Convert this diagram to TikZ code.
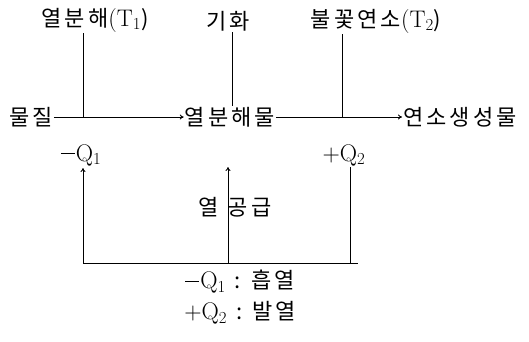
\documentclass[tikz,border=0pt]{standalone}
\usepackage{fontspec}
\usetikzlibrary{arrows.meta}
\newfontfamily\kr[LetterSpace=14]{Noto Sans CJK KR}
\newcommand{\lat}[2]{{\rmfamily\fontsize{24}{28}\selectfont #1\textsubscript{#2}}}
\newcommand{\mn}{\raisebox{7.5pt}{\rule{14pt}{0.9pt}}\hspace{1pt}}
\begin{document}
\begin{tikzpicture}[x=1pt,y=-1pt,
  lbl/.style={font=\fontsize{22}{26}\selectfont\kr, inner sep=1pt},
  ln/.style={line width=0.9pt},
  arr/.style={ln,-{To[length=4pt,width=5pt]}}]
\useasboundingbox (0,0) rectangle (529,341);
\node[lbl] (a) at (95,20) {열분해\lat{(T}{1})};
\node[lbl] (b) at (228,21) {기화};
\node[lbl] (c) at (376,21) {불꽃연소\lat{(T}{2})};
\node[lbl] (m) at (31,117) {물질};
\node[lbl] (p) at (230,117) {열분해물};
\node[lbl] (r) at (460,117) {연소생성물};
\node[lbl] (q1) at (81,155) {\mn\lat{Q}{1}};
\node[lbl] (q2) at (344,155) {\lat{+Q}{2}};
\node[lbl] (h) at (235,207) {열\hspace{9pt}공급};
\node[lbl] (l1) at (240,282) {\mn\lat{Q}{1}\hspace{9pt}:\hspace{10pt}흡열};
\node[lbl] (l2) at (240,313) {\lat{+Q}{2}\hspace{9pt}:\hspace{10pt}발열};
\coordinate (j1) at (83,117);
\coordinate (j2) at (232,106);
\coordinate (j3) at (342,117);
\coordinate (bl) at (83,263);
\coordinate (bm) at (228,263);
\coordinate (br) at (350,263);
\coordinate (be) at (358,263);
\coordinate (tm) at (228,167);
\coordinate (tl) at (83,168);
\draw[arr] (m.east) -- (p.west);
\draw[arr] (p.east) -- (r.west);
\draw[ln] (a.south -| j1) -- (j1);
\draw[ln] (b.south -| j2) -- (j2);
\draw[ln] (c.south -| j3) -- (j3);
\draw[arr] (bl) -- (tl);
\draw[arr] (bm) -- (tm);
\draw[ln] (q2.south -| br) -- (br);
\draw[ln] (bl) -- (be);
\end{tikzpicture}
\end{document}
